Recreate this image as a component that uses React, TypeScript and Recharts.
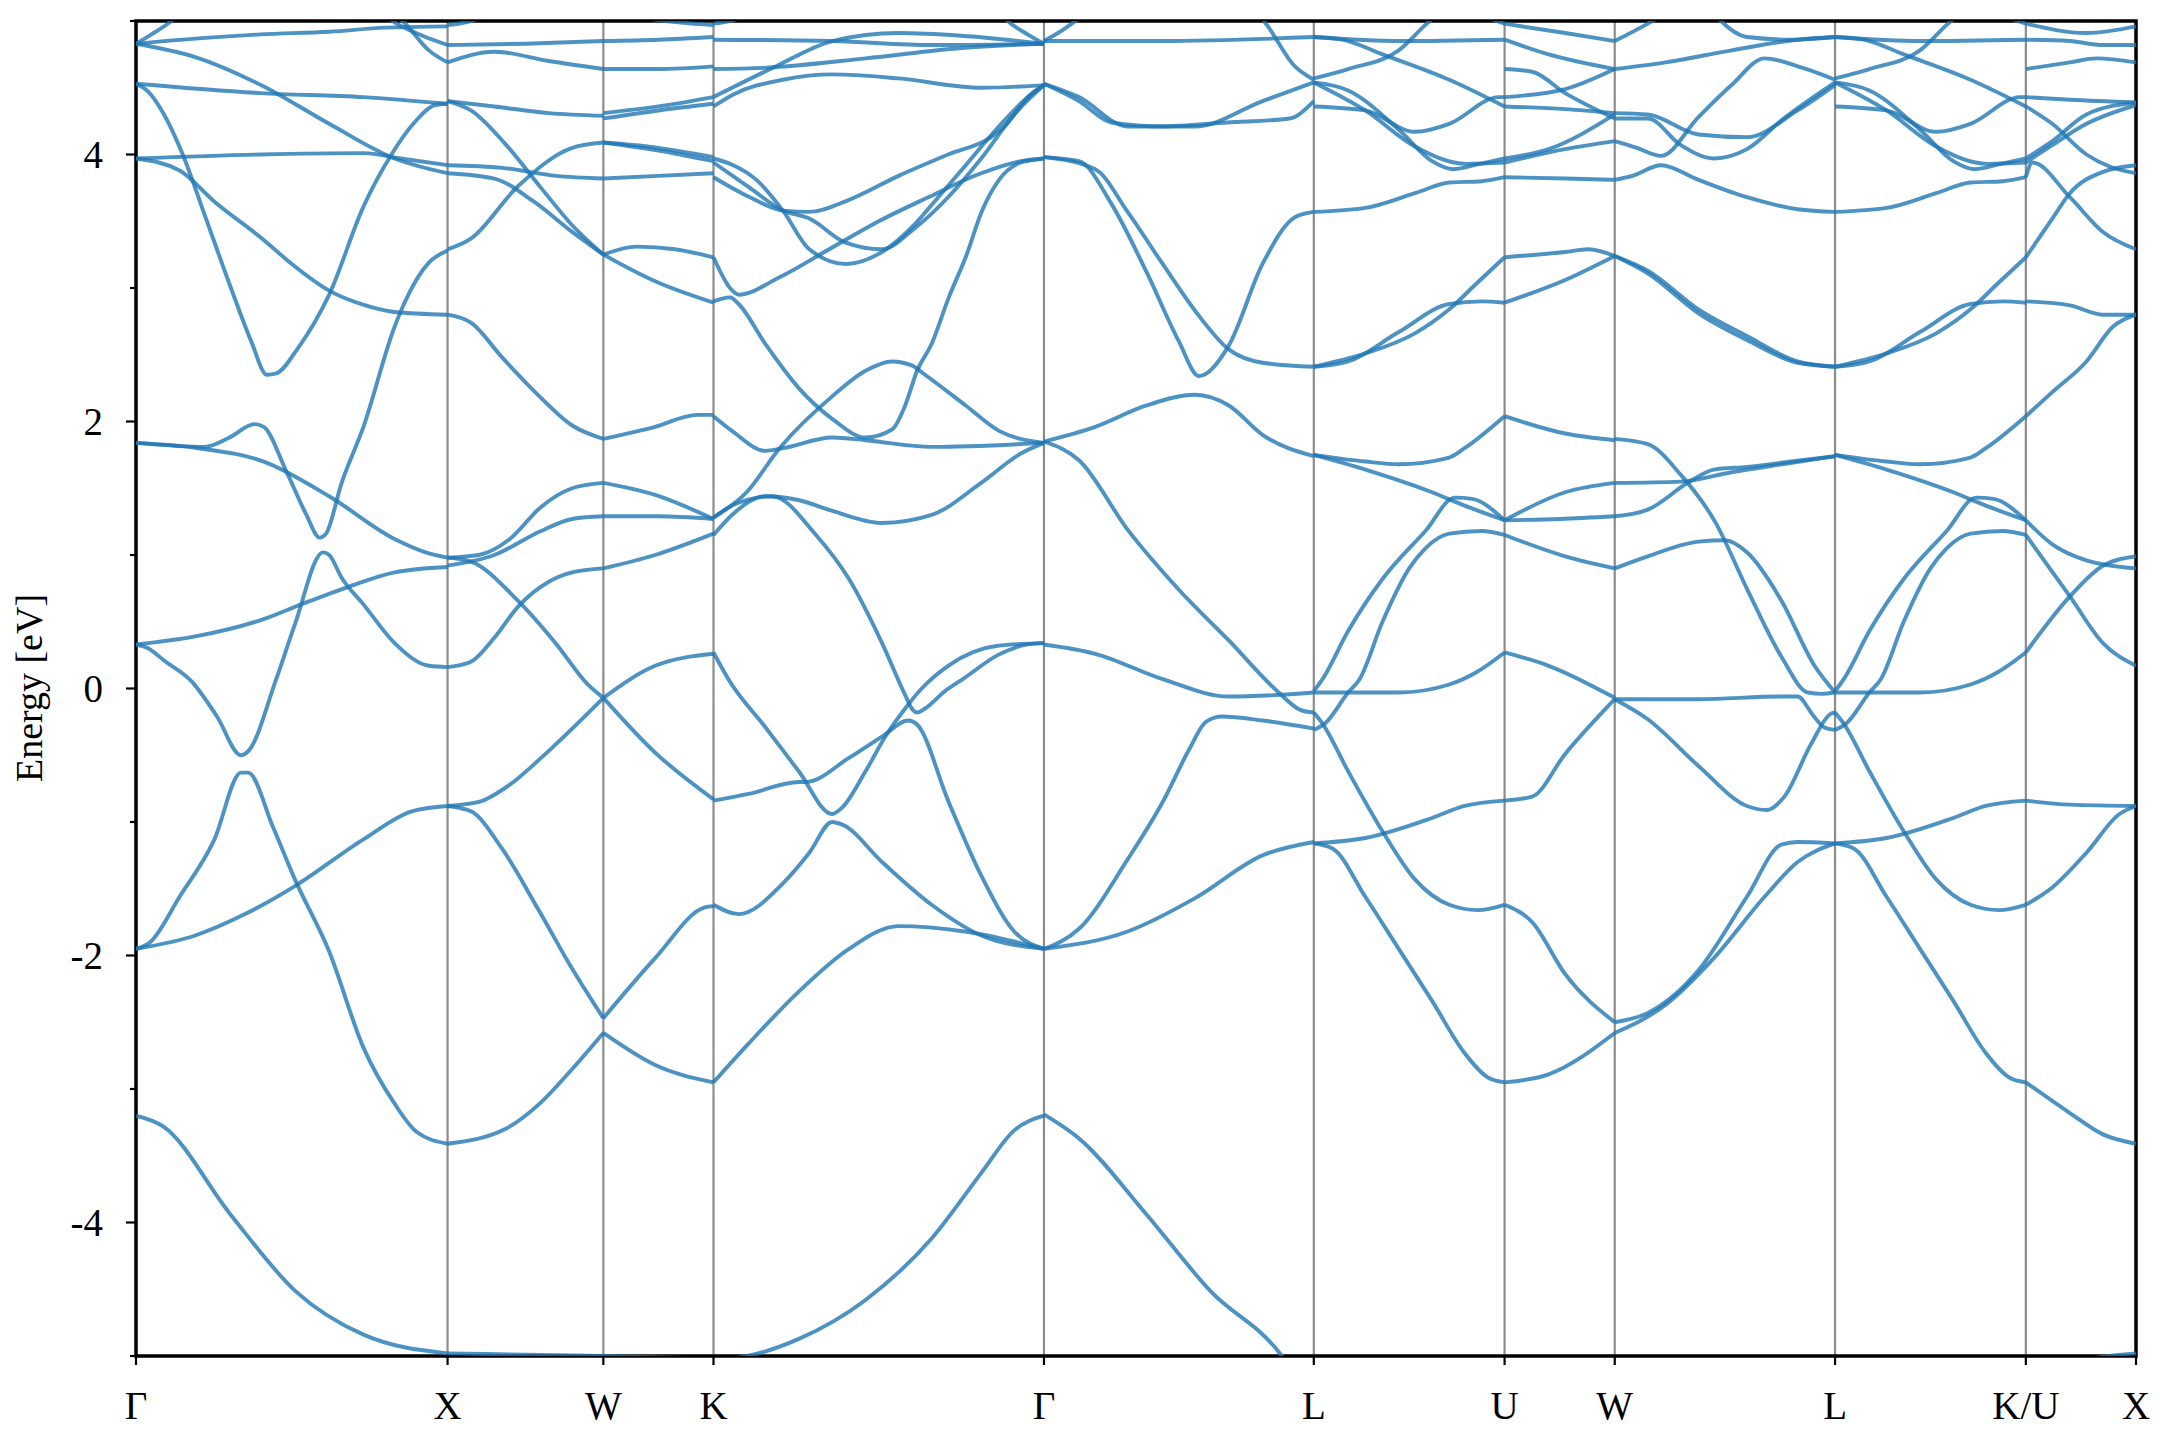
import { LineChart, Line, XAxis, YAxis, ReferenceLine, ReferenceArea } from "recharts";

// high-symmetry points along the path (units of 2pi/a)
const kTicks = [0, 1, 1.5, 1.85355, 2.91421, 3.78024, 4.39261, 4.74616, 5.45327, 6.06564, 6.41919];
const kLabels = ["Γ", "X", "W", "K", "Γ", "L", "U", "W", "L", "K/U", "X"];
const energyTicks = [-5, -4, -3, -2, -1, 0, 1, 2, 3, 4, 5];

// each segment: list of curves, each curve = [fraction along segment, energy eV]
const gammaX = [
  [[0, 4.83], [0.05, 4.9], [0.108, 4.99], [0.16, 5.1]],
  [[0, 4.83], [0.2, 4.87], [0.4, 4.9], [0.62, 4.92], [0.8, 4.95], [1, 4.96]],
  [[0.76, 5.12], [0.83, 4.99], [0.92, 4.89], [1, 4.82]],
  [[0.8, 5.1], [0.86, 4.99], [0.94, 4.78], [1, 4.69]],
  [[0, 4.83], [0.19, 4.73], [0.41, 4.51], [0.62, 4.23], [0.83, 3.97], [1, 3.86]],
  [[0, 4.53], [0.4, 4.46], [0.73, 4.43], [1, 4.38]],
  [[0, 4.53], [0.04, 4.47], [0.09, 4.3], [0.15, 4.0], [0.22, 3.55], [0.3, 3.03], [0.37, 2.6], [0.42, 2.35], [0.45, 2.36], [0.52, 2.55], [0.62, 2.95], [0.73, 3.61], [0.82, 4.0], [0.89, 4.23], [0.96, 4.37], [1, 4.38]],
  [[0, 3.97], [0.14, 3.88], [0.25, 3.65], [0.41, 3.36], [0.5, 3.18], [0.62, 2.98], [0.75, 2.86], [0.83, 2.82], [1, 2.8]],
  [[0, 3.97], [0.4, 4.0], [0.73, 4.01], [0.85, 3.97], [1, 3.92]],
  [[0, 1.84], [0.12, 1.82], [0.22, 1.81], [0.3, 1.88], [0.38, 1.98], [0.41, 1.96], [0.48, 1.64], [0.545, 1.31], [0.59, 1.13], [0.61, 1.16], [0.66, 1.54], [0.73, 1.96], [0.83, 2.71], [0.86, 2.88], [0.94, 3.19], [1, 3.28]],
  [[0, 1.84], [0.2, 1.8], [0.41, 1.7], [0.62, 1.44], [0.83, 1.12], [0.93, 1.02], [1, 0.98]],
  [[0, 0.33], [0.19, 0.39], [0.41, 0.52], [0.53, 0.63], [0.68, 0.76], [0.83, 0.87], [1, 0.91]],
  [[0, 0.33], [0.04, 0.3], [0.09, 0.21], [0.18, 0.05], [0.26, -0.21], [0.337, -0.5], [0.36, -0.47], [0.45, 0.07], [0.51, 0.48], [0.6, 1.02], [0.62, 1.0], [0.66, 0.83], [0.73, 0.63], [0.83, 0.34], [0.94, 0.17], [1, 0.16]],
  [[0, -1.95], [0.045, -1.9], [0.14, -1.56], [0.25, -1.14], [0.337, -0.63], [0.36, -0.63], [0.44, -1.04], [0.51, -1.43], [0.62, -1.97], [0.73, -2.69], [0.83, -3.11], [0.9, -3.32], [1, -3.41]],
  [[0, -1.95], [0.19, -1.85], [0.35, -1.69], [0.51, -1.48], [0.73, -1.13], [0.885, -0.92], [1, -0.88]],
  [[0, -3.2], [0.087, -3.28], [0.3, -3.93], [0.51, -4.51], [0.73, -4.84], [1, -4.98]],
];

const xW = [
  [[0, 4.97], [0.15, 5.0], [0.35, 5.1]],
  [[0, 4.82], [0.5, 4.83], [1, 4.85]],
  [[0, 4.69], [0.3, 4.77], [0.65, 4.7], [1, 4.64]],
  [[0, 4.4], [0.3, 4.36], [0.65, 4.31], [1, 4.29]],
  [[0, 4.4], [0.15, 4.33], [0.37, 4.08], [0.6, 3.75], [0.8, 3.47], [1, 3.25]],
  [[0, 3.92], [0.35, 3.9], [0.7, 3.84], [1, 3.82]],
  [[0, 3.86], [0.3, 3.82], [0.55, 3.65], [0.8, 3.42], [1, 3.25]],
  [[0, 3.29], [0.15, 3.37], [0.45, 3.76], [0.8, 4.05], [1, 4.09]],
  [[0, 2.8], [0.15, 2.74], [0.35, 2.48], [0.58, 2.2], [0.8, 1.97], [1, 1.87]],
  [[0, 0.98], [0.2, 1.0], [0.4, 1.12], [0.6, 1.36], [0.8, 1.5], [1, 1.54]],
  [[0, 0.98], [0.15, 0.95], [0.45, 0.66], [0.7, 0.33], [0.9, 0.03], [1, -0.07]],
  [[0, 0.92], [0.3, 1.0], [0.6, 1.18], [0.8, 1.27], [1, 1.29]],
  [[0, 0.16], [0.15, 0.2], [0.3, 0.38], [0.45, 0.61], [0.65, 0.8], [0.8, 0.87], [1, 0.9]],
  [[0, -0.88], [0.2, -0.85], [0.4, -0.72], [0.6, -0.52], [0.8, -0.3], [1, -0.07]],
  [[0, -0.88], [0.15, -0.92], [0.35, -1.2], [0.58, -1.65], [0.8, -2.1], [1, -2.47]],
  [[0, -3.41], [0.37, -3.3], [0.6, -3.1], [0.8, -2.85], [1, -2.58]],
  [[0, -4.98], [0.5, -4.99], [1, -5.0]],
];

const wK = [
  [[0, 5.1], [0.4, 5.02], [1, 4.97]],
  [[0, 4.85], [0.5, 4.86], [1, 4.88]],
  [[0, 4.64], [0.5, 4.64], [1, 4.66]],
  [[0, 4.31], [0.5, 4.36], [1, 4.43]],
  [[0, 4.27], [0.5, 4.33], [1, 4.38]],
  [[0, 4.09], [0.4, 4.06], [1, 3.98]],
  [[0, 4.09], [0.5, 4.03], [1, 3.95]],
  [[0, 3.82], [0.5, 3.84], [1, 3.86]],
  [[0, 3.25], [0.3, 3.31], [0.65, 3.29], [1, 3.23]],
  [[0, 3.25], [0.47, 3.05], [1, 2.89]],
  [[0, 1.87], [0.47, 1.96], [0.85, 2.05], [1, 2.05]],
  [[0, 1.54], [0.47, 1.45], [1, 1.27]],
  [[0, 1.29], [0.5, 1.29], [1, 1.27]],
  [[0, 0.9], [0.47, 1.0], [1, 1.16]],
  [[0, -0.07], [0.47, 0.17], [1, 0.26]],
  [[0, -0.07], [0.47, -0.48], [1, -0.83]],
  [[0, -2.47], [0.47, -2.02], [0.92, -1.64], [1, -1.63]],
  [[0, -2.58], [0.47, -2.82], [1, -2.95]],
  [[0, -5.0], [1, -5.02]],
];

const kGamma = [
  [[0, 4.98], [0.05, 5.0], [0.15, 5.08]],
  [[0, 4.86], [0.36, 4.85], [0.66, 4.82], [1, 4.83]],
  [[0, 4.43], [0.18, 4.65], [0.36, 4.85], [0.56, 4.91], [0.75, 4.89], [1, 4.83]],
  [[0, 4.64], [0.16, 4.65], [0.46, 4.72], [0.76, 4.8], [1, 4.83]],
  [[0, 4.36], [0.06, 4.45], [0.21, 4.56], [0.36, 4.6], [0.56, 4.57], [0.81, 4.5], [1, 4.52]],
  [[0.85, 5.1], [0.89, 5.0], [0.95, 4.9], [1, 4.83]],
  [[0, 3.97], [0.06, 3.92], [0.13, 3.81], [0.21, 3.58], [0.29, 3.29], [0.4, 3.18], [0.51, 3.27], [0.61, 3.48], [0.68, 3.68], [0.76, 3.91], [0.86, 4.2], [0.96, 4.45], [1, 4.52]],
  [[0, 3.94], [0.11, 3.75], [0.21, 3.58], [0.29, 3.52], [0.4, 3.34], [0.51, 3.29], [0.61, 3.45], [0.71, 3.68], [0.81, 3.97], [0.91, 4.3], [1, 4.52]],
  [[0, 3.83], [0.11, 3.68], [0.21, 3.58], [0.29, 3.57], [0.41, 3.66], [0.56, 3.84], [0.71, 4.0], [0.84, 4.13], [0.88, 4.21], [0.96, 4.45], [1, 4.52]],
  [[0, 3.23], [0.05, 3.0], [0.076, 2.95], [0.2, 3.08], [0.35, 3.29], [0.5, 3.5], [0.65, 3.68], [0.8, 3.85], [0.93, 3.95], [1, 3.97]],
  [[0, 2.9], [0.05, 2.93], [0.076, 2.88], [0.157, 2.58], [0.258, 2.25], [0.359, 2.02], [0.46, 1.88], [0.54, 1.94], [0.58, 2.12], [0.616, 2.38], [0.66, 2.58], [0.712, 2.93], [0.763, 3.23], [0.813, 3.58], [0.864, 3.81], [0.93, 3.94], [1, 3.97]],
  [[0, 2.04], [0.056, 1.93], [0.157, 1.78], [0.21, 1.8], [0.36, 1.88], [0.46, 1.86], [0.66, 1.81], [1, 1.84]],
  [[0, 1.28], [0.1, 1.47], [0.2, 1.8], [0.36, 2.19], [0.46, 2.38], [0.54, 2.45], [0.6, 2.42], [0.64, 2.35], [0.763, 2.12], [0.864, 1.93], [1, 1.84]],
  [[0, 1.15], [0.056, 1.3], [0.157, 1.44], [0.26, 1.41], [0.36, 1.33], [0.51, 1.24], [0.66, 1.3], [0.81, 1.54], [0.93, 1.76], [1, 1.84]],
  [[0, 1.28], [0.056, 1.37], [0.177, 1.44], [0.31, 1.15], [0.41, 0.82], [0.51, 0.34], [0.58, -0.05], [0.6, -0.15], [0.616, -0.18], [0.64, -0.15], [0.7, -0.02], [0.76, 0.08], [0.86, 0.25], [0.95, 0.33], [1, 0.34]],
  [[0, 0.27], [0.045, 0.07], [0.157, -0.29], [0.258, -0.62], [0.359, -0.94], [0.39, -0.89], [0.46, -0.62], [0.52, -0.36], [0.58, -0.15], [0.63, 0.0], [0.71, 0.17], [0.86, 0.32], [1, 0.34]],
  [[0, -0.84], [0.106, -0.79], [0.258, -0.7], [0.28, -0.7], [0.41, -0.52], [0.51, -0.36], [0.59, -0.24], [0.616, -0.27], [0.71, -0.84], [0.81, -1.4], [0.91, -1.82], [1, -1.95]],
  [[0, -1.62], [0.076, -1.69], [0.21, -1.46], [0.29, -1.23], [0.359, -1.0], [0.39, -1.02], [0.51, -1.3], [0.66, -1.62], [0.81, -1.85], [1, -1.95]],
  [[0, -2.95], [0.106, -2.66], [0.258, -2.27], [0.41, -1.95], [0.56, -1.78], [0.76, -1.82], [1, -1.95]],
  [[0, -5.03], [0.056, -5.02], [0.26, -4.87], [0.46, -4.58], [0.66, -4.12], [0.81, -3.63], [0.91, -3.31], [1, -3.2]],
];

const gammaL = [
  [[0, 4.85], [0.44, 4.85], [1, 4.88]],
  [[0, 4.85], [0.06, 4.92], [0.13, 5.02], [0.2, 5.12]],
  [[0.74, 5.12], [0.81, 5.01], [0.93, 4.66], [1, 4.56]],
  [[0, 4.53], [0.13, 4.43], [0.31, 4.21], [0.56, 4.21], [0.81, 4.4], [1, 4.54]],
  [[0, 4.53], [0.13, 4.4], [0.25, 4.24], [0.44, 4.21], [0.68, 4.24], [0.91, 4.27], [1, 4.4]],
  [[0, 3.98], [0.13, 3.95], [0.25, 3.63], [0.38, 3.12], [0.5, 2.6], [0.574, 2.34], [0.685, 2.57], [0.81, 3.18], [0.93, 3.53], [1, 3.57]],
  [[0, 3.98], [0.19, 3.89], [0.31, 3.57], [0.44, 3.18], [0.56, 2.83], [0.685, 2.54], [0.81, 2.44], [1, 2.41]],
  [[0, 1.85], [0.19, 1.96], [0.38, 2.12], [0.56, 2.2], [0.685, 2.12], [0.81, 1.9], [1, 1.74]],
  [[0, 1.85], [0.13, 1.71], [0.31, 1.19], [0.5, 0.74], [0.685, 0.36], [0.87, -0.03], [0.95, -0.16], [1, -0.18]],
  [[0, 0.33], [0.19, 0.26], [0.44, 0.07], [0.685, -0.06], [0.85, -0.05], [1, -0.03]],
  [[0, -1.95], [0.13, -1.8], [0.31, -1.28], [0.44, -0.85], [0.54, -0.45], [0.6, -0.25], [0.66, -0.21], [0.81, -0.24], [1, -0.3]],
  [[0, -1.95], [0.31, -1.82], [0.56, -1.57], [0.81, -1.25], [1, -1.15]],
  [[0, -3.19], [0.13, -3.37], [0.38, -3.94], [0.62, -4.52], [0.87, -4.97], [0.95, -5.2]],
];

// L -> U (the L -> K/U segment reads the same)
const lU = [
  [[0, 4.88], [0.45, 4.85], [1, 4.86]],
  [[0, 4.57], [0.18, 4.64], [0.445, 4.78], [0.6, 4.99], [0.7, 5.1]],
  [[0, 4.88], [0.15, 4.86], [0.36, 4.75], [0.71, 4.56], [1, 4.36]],
  [[0, 4.54], [0.18, 4.48], [0.45, 4.18], [0.62, 3.95], [0.73, 3.89], [0.87, 3.93], [1, 3.97]],
  [[0, 4.54], [0.27, 4.33], [0.53, 4.06], [0.8, 3.93], [1, 3.94]],
  [[0, 4.36], [0.27, 4.33], [0.53, 4.17], [0.71, 4.23], [0.97, 4.43], [1, 4.43]],
  [[0.9, 5.03], [1, 4.98]],
  [[0, 3.57], [0.27, 3.6], [0.53, 3.71], [0.71, 3.79], [0.88, 3.8], [1, 3.83]],
  [[0, 2.41], [0.18, 2.45], [0.445, 2.67], [0.71, 2.88], [0.88, 2.9], [1, 2.89]],
  [[0, 2.41], [0.27, 2.51], [0.53, 2.66], [0.71, 2.84], [0.85, 3.03], [1, 3.23]],
  [[0, 1.75], [0.27, 1.7], [0.445, 1.68], [0.71, 1.73], [0.79, 1.8], [1, 2.04]],
  [[0, 1.75], [0.27, 1.64], [0.62, 1.47], [0.79, 1.37], [1, 1.26]],
  [[0, -0.02], [0.05, 0.08], [0.18, 0.43], [0.36, 0.82], [0.585, 1.18], [0.74, 1.43], [0.83, 1.42], [1, 1.26]],
  [[0, -0.31], [0.06, -0.26], [0.18, -0.03], [0.24, 0.07], [0.36, 0.5], [0.5, 0.9], [0.585, 1.05], [0.71, 1.16], [0.88, 1.18], [1, 1.15]],
  [[0, -0.03], [0.445, -0.03], [0.71, 0.03], [0.85, 0.12], [1, 0.27]],
  [[0, -0.18], [0.044, -0.26], [0.18, -0.62], [0.36, -1.07], [0.53, -1.43], [0.71, -1.62], [0.86, -1.66], [1, -1.62]],
  [[0, -1.16], [0.27, -1.12], [0.62, -0.97], [0.79, -0.88], [1, -0.84]],
  [[0, -1.16], [0.1, -1.2], [0.27, -1.56], [0.445, -1.95], [0.62, -2.34], [0.79, -2.73], [0.92, -2.92], [1, -2.95]],
];

const uW = [
  [[0, 4.98], [0.55, 4.91], [1, 4.85]],
  [[0, 4.86], [0.4, 4.75], [1, 4.64]],
  [[0, 4.64], [0.25, 4.62], [0.55, 4.46], [1, 4.27]],
  [[0, 4.43], [0.55, 4.49], [1, 4.64]],
  [[0, 4.36], [0.55, 4.34], [1, 4.31]],
  [[0, 3.97], [0.4, 4.04], [1, 4.3]],
  [[0, 3.94], [0.55, 4.04], [1, 4.1]],
  [[0, 3.83], [0.55, 3.82], [1, 3.81]],
  [[0, 3.23], [0.55, 3.27], [0.76, 3.29], [1, 3.24]],
  [[0, 2.89], [0.55, 3.06], [1, 3.24]],
  [[0, 2.04], [0.55, 1.91], [1, 1.86]],
  [[0, 1.26], [0.5, 1.27], [1, 1.29]],
  [[0, 1.15], [0.55, 0.99], [1, 0.9]],
  [[0, 1.26], [0.55, 1.47], [1, 1.54]],
  [[0, 0.27], [0.4, 0.17], [1, -0.07]],
  [[0, -0.84], [0.25, -0.81], [0.55, -0.49], [1, -0.08]],
  [[0, -1.62], [0.25, -1.75], [0.55, -2.14], [1, -2.5]],
  [[0, -2.95], [0.4, -2.89], [1, -2.58]],
];

const wL = [
  [[0, 4.85], [0.15, 4.98], [0.25, 5.08]],
  [[0, 4.64], [0.23, 4.69], [0.53, 4.78], [0.83, 4.86], [1, 4.88]],
  [[0.45, 5.05], [0.6, 4.88], [0.8, 4.86], [1, 4.88]],
  [[0, 4.1], [0.1, 4.05], [0.21, 3.99], [0.38, 4.28], [0.53, 4.52], [0.68, 4.72], [0.85, 4.65], [1, 4.56]],
  [[0, 4.31], [0.15, 4.3], [0.38, 4.15], [0.6, 4.13], [0.83, 4.33], [1, 4.52]],
  [[0, 4.27], [0.15, 4.27], [0.3, 4.07], [0.45, 3.97], [0.6, 4.04], [0.76, 4.26], [1, 4.54]],
  [[0, 3.81], [0.08, 3.84], [0.21, 3.92], [0.38, 3.81], [0.6, 3.68], [0.83, 3.59], [1, 3.57]],
  [[0, 3.24], [0.15, 3.13], [0.38, 2.84], [0.6, 2.64], [0.83, 2.45], [1, 2.41]],
  [[0, 3.24], [0.15, 3.11], [0.38, 2.81], [0.6, 2.61], [0.83, 2.44], [1, 2.41]],
  [[0, 1.87], [0.15, 1.83], [0.3, 1.6], [0.455, 1.25], [0.605, 0.73], [0.756, 0.24], [0.877, -0.03], [0.94, -0.04], [1, -0.03]],
  [[0, 1.54], [0.3, 1.55], [0.53, 1.62], [0.76, 1.68], [1, 1.74]],
  [[0, 1.29], [0.15, 1.34], [0.34, 1.55], [0.45, 1.64], [0.6, 1.66], [0.8, 1.7], [1, 1.74]],
  [[0, 0.9], [0.15, 0.99], [0.38, 1.1], [0.5, 1.11], [0.6, 1.02], [0.756, 0.66], [0.907, 0.17], [1, -0.03]],
  [[0, -0.08], [0.38, -0.08], [0.756, -0.06], [0.83, -0.06], [0.9, -0.2], [0.95, -0.29], [1, -0.31]],
  [[0, -0.08], [0.15, -0.23], [0.38, -0.58], [0.6, -0.88], [0.69, -0.91], [0.77, -0.81], [0.89, -0.42], [0.98, -0.19], [1, -0.18]],
  [[0, -2.5], [0.15, -2.43], [0.38, -2.11], [0.6, -1.56], [0.756, -1.17], [0.83, -1.15], [1, -1.16]],
  [[0, -2.58], [0.23, -2.37], [0.455, -2.01], [0.68, -1.56], [0.83, -1.3], [1, -1.16]],
];

const uX = [
  [[0, 4.98], [0.55, 4.91], [1, 4.96]],
  [[0, 4.86], [0.4, 4.85], [0.7, 4.82], [1, 4.82]],
  [[0, 4.64], [0.4, 4.69], [0.64, 4.72], [1, 4.69]],
  [[0, 4.43], [0.4, 4.41], [1, 4.39]],
  [[0, 4.36], [0.24, 4.23], [0.55, 4.0], [0.76, 3.91], [1, 3.86]],
  [[0, 3.97], [0.24, 4.1], [0.55, 4.3], [1, 4.39]],
  [[0, 3.94], [0.24, 4.07], [0.55, 4.23], [1, 4.37]],
  [[0, 3.83], [0.06, 3.94], [0.4, 3.68], [0.7, 3.42], [1, 3.29]],
  [[0, 3.23], [0.24, 3.52], [0.4, 3.71], [0.7, 3.87], [1, 3.92]],
  [[0, 2.9], [0.4, 2.87], [0.7, 2.8], [1, 2.8]],
  [[0, 2.04], [0.24, 2.22], [0.55, 2.45], [0.79, 2.71], [1, 2.8]],
  [[0, 1.26], [0.24, 1.08], [0.55, 0.96], [1, 0.9]],
  [[0, 1.15], [0.4, 0.69], [0.7, 0.34], [1, 0.17]],
  [[0, 0.27], [0.4, 0.69], [0.7, 0.92], [1, 0.99]],
  [[0, -0.84], [0.4, -0.87], [1, -0.88]],
  [[0, -1.62], [0.24, -1.49], [0.55, -1.23], [0.85, -0.94], [1, -0.88]],
  [[0, -2.95], [0.4, -3.18], [0.7, -3.34], [1, -3.41]],
  [[0.4, -5.2], [0.55, -5.03], [1, -4.98]],
];

const segments = [gammaX, xW, wK, kGamma, gammaL, lU, uW, wL, lU, uX];

const bands = segments.flatMap((curves, i) =>
  curves.map((curve) =>
    curve.map(([t, e]) => ({ x: kTicks[i] + t * (kTicks[i + 1] - kTicks[i]), e }))
  )
);

const PLOT_LEFT = 128;
const PLOT_BOTTOM = 1348;
const FONT = "'Liberation Serif', 'Times New Roman', serif";

function EnergyTick(props: any) {
  const { y, payload } = props;
  const v = payload.value;
  const major = v % 2 === 0;
  return (
    <g>
      <line x1={PLOT_LEFT - (major ? 10 : 6)} x2={PLOT_LEFT} y1={y} y2={y} stroke="#000" strokeWidth={2.2} />
      {major && (
        <text x={PLOT_LEFT - 33} y={y} dy="0.35em" textAnchor="end" fontFamily={FONT} fontSize={39} fill="#000">
          {v}
        </text>
      )}
    </g>
  );
}

function KTick(props: any) {
  const { x, payload, index } = props;
  return (
    <g>
      <line x1={x} x2={x} y1={PLOT_BOTTOM} y2={PLOT_BOTTOM + 9} stroke="#000" strokeWidth={2.2} />
      <text x={x} y={1411} textAnchor="middle" fontFamily={FONT} fontSize={39} fill="#000">
        {kLabels[index] ?? payload.value}
      </text>
    </g>
  );
}

function EnergyLabel() {
  return (
    <text
      x={21}
      y={680}
      transform="rotate(-90 21 680)"
      textAnchor="middle"
      dominantBaseline="central"
      fontFamily={FONT}
      fontSize={38}
      fill="#000"
    >
      Energy [eV]
    </text>
  );
}

export default function App() {
  return (
    <div style={{ width: 2150, height: 1420, background: "#fff" }}>
      <LineChart width={2150} height={1420} margin={{ top: 13, right: 22, bottom: 12, left: 48 }}>
        <XAxis
          type="number"
          dataKey="x"
          domain={[0, kTicks[kTicks.length - 1]]}
          ticks={kTicks}
          interval={0}
          tick={<KTick />}
          tickLine={false}
          axisLine={false}
          height={60}
          allowDataOverflow
        />
        <YAxis
          type="number"
          dataKey="e"
          domain={[-5, 5]}
          ticks={energyTicks}
          interval={0}
          tick={<EnergyTick />}
          tickLine={false}
          axisLine={false}
          width={80}
          allowDataOverflow
          label={() => <EnergyLabel />}
        />
        {kTicks.slice(1, -1).map((k, i) => (
          <ReferenceLine key={"v" + i} x={k} stroke="#000" strokeOpacity={0.45} strokeWidth={2.2} />
        ))}
        {bands.map((pts, i) => (
          <Line
            key={i}
            data={pts}
            dataKey="e"
            type="monotone"
            stroke="#1f77b4"
            strokeOpacity={0.8}
            strokeWidth={3.9}
            dot={false}
            activeDot={false}
            isAnimationActive={false}
          />
        ))}
        <ReferenceArea
          x1={0}
          x2={kTicks[kTicks.length - 1]}
          y1={-5}
          y2={5}
          fill="none"
          fillOpacity={0}
          stroke="#000"
          strokeWidth={3.5}
          ifOverflow="visible"
        />
      </LineChart>
    </div>
  );
}
